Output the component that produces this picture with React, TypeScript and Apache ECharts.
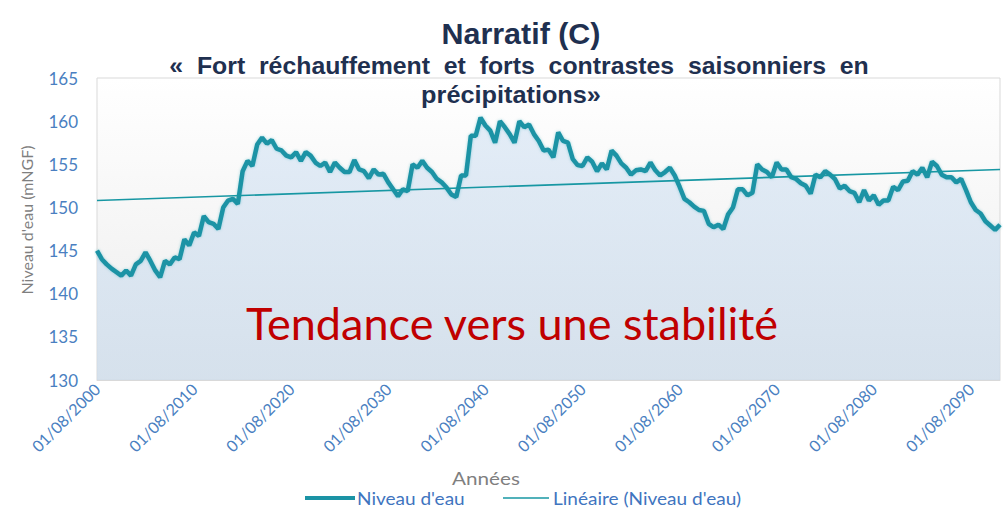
import React, { useEffect, useRef } from "react";
import * as echarts from "echarts";

// Water level (mNGF), one value every 6 months starting 01/08/2000
const niveau: number[] = [
  145.0, 144.0, 143.4, 142.9, 142.5, 142.1, 142.7, 142.1, 143.4, 143.8,
  144.8, 143.8, 142.7, 141.9, 143.8, 143.4, 144.2, 144.0, 146.3, 145.6,
  147.1, 146.7, 149.0, 148.3, 148.1, 147.5, 150.0, 150.8, 151.0, 150.4,
  154.2, 155.4, 154.8, 157.3, 158.1, 157.4, 157.8, 156.8, 156.6, 156.0,
  155.8, 156.4, 155.4, 156.4, 156.0, 155.2, 154.8, 155.2, 154.1, 155.2,
  154.6, 154.1, 154.1, 155.5, 154.4, 154.2, 153.4, 154.4, 153.8, 153.9,
  152.9, 152.1, 151.3, 152.1, 151.9, 155.0, 154.6, 155.4, 154.6, 154.1,
  153.3, 152.9, 152.3, 151.5, 151.2, 153.7, 153.7, 158.3, 158.3, 160.4,
  159.5, 158.9, 157.5, 160.0, 159.3, 158.5, 157.5, 160.0, 159.3, 159.6,
  158.5, 157.7, 156.6, 156.7, 155.8, 158.7, 157.7, 157.5, 155.6, 154.9,
  154.8, 155.8, 155.3, 154.2, 155.1, 154.4, 156.6, 156.0, 155.1, 154.6,
  153.8, 154.3, 154.4, 154.2, 155.2, 154.3, 153.7, 154.1, 154.6, 153.7,
  152.4, 151.0, 150.6, 150.1, 149.7, 149.6, 148.1, 147.7, 148.0, 147.5,
  149.2, 150.0, 152.1, 152.1, 151.4, 151.7, 155.0, 154.4, 154.1, 153.5,
  155.2, 154.4, 154.4, 153.5, 153.3, 152.8, 152.5, 151.6, 153.8, 153.5,
  154.2, 153.8, 153.3, 152.2, 152.5, 151.9, 151.7, 150.6, 152.0, 150.8,
  151.4, 150.3, 150.8, 150.8, 152.4, 152.0, 153.0, 153.1, 154.2, 153.8,
  154.6, 153.5, 155.3, 154.8, 153.8, 153.5, 153.5, 152.9, 153.3, 152.0,
  150.6, 149.7, 149.3, 148.4, 147.9, 147.4, 148.0,
];

// Linear trend line: value at first and last date
const trendEnds: number[] = [150.8, 154.4];

const tickLabels: string[] = [
  "01/08/2000", "01/08/2010", "01/08/2020", "01/08/2030", "01/08/2040",
  "01/08/2050", "01/08/2060", "01/08/2070", "01/08/2080", "01/08/2090",
];

const startYear = 2000;
const categories: string[] = niveau.map((_, i) =>
  i % 2 === 0 ? `01/08/${startYear + i / 2}` : `01/02/${startYear + (i + 1) / 2}`
);

const trendData: (number | null)[] = niveau.map((_, i) =>
  i === 0 ? trendEnds[0] : i === niveau.length - 1 ? trendEnds[1] : null
);

const seriesNames = ["Niveau d'eau", "Linéaire (Niveau d'eau)"];

const LINE_COLOR = "#1b93a5";
const TREND_COLOR = "#1797a3";
const LEGEND_TEXT = "#3f75c0";

export default function App() {
  const ref = useRef<HTMLDivElement>(null);
  useEffect(() => {
    if (!ref.current) return;
    const chart = echarts.init(ref.current, null, { renderer: "svg" });
    const labelFont = "Lato, 'Open Sans', sans-serif";
    const titleFont = "'Liberation Sans', Arial, sans-serif";
    chart.setOption({
      animation: false,
      backgroundColor: "#ffffff",
      grid: {
        left: 97,
        right: 7,
        top: 78,
        bottom: 140,
        show: true,
        borderColor: "#d9d9d9",
        borderWidth: 1,
        backgroundColor: new echarts.graphic.LinearGradient(0, 0, 0, 1, [
          { offset: 0, color: "#ffffff" },
          { offset: 1, color: "#ececec" },
        ]),
        outerBoundsMode: "none",
      },
      xAxis: {
        type: "category",
        data: categories,
        boundaryGap: false,
        axisLine: { show: true, lineStyle: { color: "#d9d9d9" } },
        axisTick: { show: false },
        axisLabel: {
          interval: (idx: number, val: string) => tickLabels.includes(val),
          rotate: 45,
          color: "#4a7fc1",
          fontSize: 16,
          fontFamily: labelFont,
          margin: 6,
        },
        splitLine: { show: false },
      },
      yAxis: {
        type: "value",
        min: 130,
        max: 165,
        interval: 5,
        axisLine: { show: false },
        axisTick: { show: false },
        splitLine: { show: false },
        axisLabel: {
          color: "#4a7fc1",
          fontSize: 17,
          fontFamily: labelFont,
          margin: 19,
        },
      },
      series: [
        {
          name: seriesNames[0],
          type: "line",
          data: niveau,
          symbol: "none",
          smooth: false,
          lineStyle: {
            color: LINE_COLOR,
            width: 4.5,
            shadowColor: "rgba(27,147,165,0.35)",
            shadowBlur: 3,
          },
          itemStyle: { color: LINE_COLOR },
          areaStyle: {
            origin: "start",
            color: new echarts.graphic.LinearGradient(0, 0, 0, 1, [
              { offset: 0, color: "#d8e6f5" },
              { offset: 1, color: "#ccdcec" },
            ]),
          },
          z: 2,
        },
        {
          name: seriesNames[1],
          type: "line",
          data: trendData,
          connectNulls: true,
          symbol: "none",
          lineStyle: { color: TREND_COLOR, width: 1.6 },
          itemStyle: { color: TREND_COLOR },
          z: 3,
        },
      ],
      graphic: [
        {
          type: "text",
          x: 521,
          y: 34,
          scaleX: 1.05,
          style: {
            text: "Narratif (C)",
            fill: "#1f3050",
            font: `bold 29px ${titleFont}`,
            textAlign: "center",
            textVerticalAlign: "middle",
          },
        },
        {
          type: "text",
          x: 519,
          y: 66,
          scaleX: 1.08,
          style: {
            text: "«  Fort  réchauffement  et  forts  contrastes  saisonniers  en",
            fill: "#1f3050",
            font: `bold 23px ${titleFont}`,
            textAlign: "center",
            textVerticalAlign: "middle",
          },
          z: 10,
        },
        {
          type: "text",
          x: 511,
          y: 95,
          scaleX: 1.1,
          style: {
            text: "précipitations»",
            fill: "#1f3050",
            font: `bold 23px ${titleFont}`,
            textAlign: "center",
            textVerticalAlign: "middle",
          },
          z: 10,
        },
        {
          type: "text",
          x: 512,
          y: 323,
          style: {
            text: "Tendance vers une stabilité",
            fill: "#c00000",
            font: `45px ${labelFont}`,
            textAlign: "center",
            textVerticalAlign: "middle",
          },
          z: 10,
        },
        {
          type: "text",
          x: 26,
          y: 220,
          rotation: Math.PI / 2,
          style: {
            text: "Niveau d'eau (mNGF)",
            fill: "#7f7f7f",
            font: `16px ${labelFont}`,
            textAlign: "center",
            textVerticalAlign: "middle",
          },
        },
        {
          type: "text",
          x: 486,
          y: 478,
          scaleX: 1.15,
          style: {
            text: "Années",
            fill: "#7f7f7f",
            font: `18px ${labelFont}`,
            textAlign: "center",
            textVerticalAlign: "middle",
          },
        },
        {
          type: "line",
          shape: { x1: 305, y1: 498, x2: 355, y2: 498 },
          style: { stroke: LINE_COLOR, lineWidth: 4 },
        },
        {
          type: "text",
          x: 357,
          y: 498,
          scaleX: 1.12,
          style: {
            text: seriesNames[0],
            fill: LEGEND_TEXT,
            font: `17px ${labelFont}`,
            textAlign: "left",
            textVerticalAlign: "middle",
          },
        },
        {
          type: "line",
          shape: { x1: 503, y1: 498, x2: 549, y2: 498 },
          style: { stroke: TREND_COLOR, lineWidth: 1.6 },
        },
        {
          type: "text",
          x: 553,
          y: 498,
          scaleX: 1.12,
          style: {
            text: seriesNames[1],
            fill: LEGEND_TEXT,
            font: `17px ${labelFont}`,
            textAlign: "left",
            textVerticalAlign: "middle",
          },
        },
      ],
    });
    return () => chart.dispose();
  }, []);
  return (
    <div
      ref={ref}
      style={{ position: "absolute", left: 0, top: 0, width: 1007, height: 520 }}
    />
  );
}
